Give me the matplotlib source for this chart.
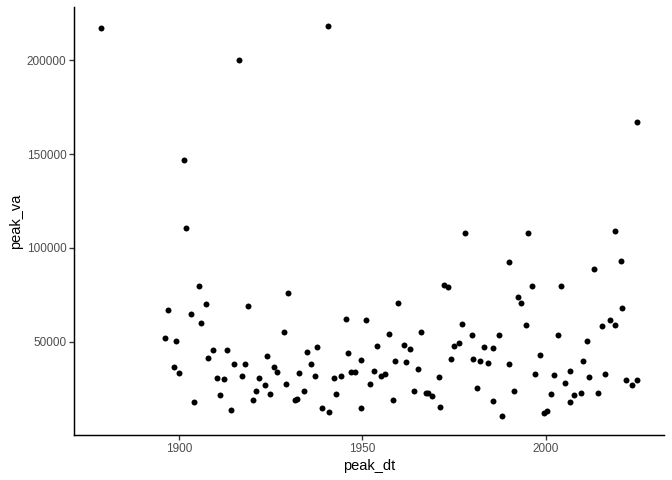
import numpy as np
import matplotlib
matplotlib.use("Agg")
import matplotlib.pyplot as plt

plt.rcParams['font.family'] = ['Liberation Sans', 'DejaVu Sans']

# peak date (decimal year) and peak value
peak_dt = [
    1878.7, 1940.7, 1916.4, 1901.4, 1901.9,
    2024.9, 1977.9, 1995.1, 2018.9,
    1905.5, 1907.4, 1897.0, 1903.3, 1918.9, 1906.0, 1896.2, 1899.2,
    1909.3, 1913.1, 1907.9, 1898.6, 1900.0, 1915.0, 1918.0, 1910.4,
    1912.3, 1917.2, 1921.9, 1921.0, 1920.2, 1911.2, 1904.1, 1914.2,
    1929.8, 1945.6, 1928.7, 1937.7, 1935.0, 1946.2, 1924.0, 1936.1,
    1926.0, 1926.8, 1932.8, 1947.0, 1948.1, 1937.2, 1942.3, 1944.3,
    1929.2, 1923.5, 1924.9, 1934.2, 1942.8, 1931.7, 1932.2, 1939.1,
    1941.0,
    1972.4, 1973.5, 1959.8, 1951.1, 1957.4, 1966.1, 1954.1, 1961.5,
    1963.1, 1975.1, 1949.7, 1959.0, 1962.0, 1974.3, 1953.3, 1965.3,
    1955.2, 1956.3, 1970.8, 1952.2, 1964.2, 1967.3, 1968.0, 1968.9,
    1958.5, 1949.7, 1971.3,
    1989.9, 1996.2, 1992.6, 1993.2, 1977.3, 1994.8, 1979.8, 1987.2,
    2003.3, 1976.5, 1983.3, 1985.8, 1998.4, 1980.3, 1982.2, 1984.2,
    1989.9, 1997.0, 2002.2, 1981.4, 1991.3, 2001.6, 1985.8, 1988.0,
    1999.5, 2000.3,
    2020.5, 2013.1, 2004.1, 2021.0, 2017.5, 2015.3, 2018.9, 2011.2,
    2010.1, 2006.6, 2016.1, 2012.0, 2022.1, 2025.1, 2023.5, 2005.2,
    2009.6, 2007.9, 2014.2, 2006.8,
]
peak_va = [
    217000, 218080, 200000, 146800, 110640,
    167000, 107980, 108000, 109040,
    79790, 70210, 67020, 64890, 69150, 60110, 52130, 50530,
    45740, 45740, 41490, 36700, 33510, 38300, 38300, 30850,
    30320, 31920, 30850, 23940, 19150, 21810, 18090, 13830,
    76060, 62230, 55320, 47340, 44680, 44150, 42550, 38300,
    36700, 34040, 33510, 34040, 34040, 31920, 30850, 31920,
    27660, 27130, 22340, 23940, 22340, 19150, 19680, 14900,
    12770,
    80320, 79260, 70740, 61700, 54260, 55320, 47870, 48400,
    46280, 47870, 40430, 39890, 39360, 40960, 34570, 35640,
    31920, 32980, 31380, 27660, 23940, 22870, 22660, 21280,
    19150, 14900, 15430,
    92550, 79790, 73940, 70740, 59570, 59040, 53720, 53720,
    53720, 49470, 47340, 46810, 43090, 40960, 39890, 38830,
    38300, 32980, 32450, 25530, 23940, 22340, 18620, 10640,
    12240, 13300,
    93080, 88830, 79790, 68080, 61700, 58510, 59040, 50530,
    39890, 34570, 32980, 31380, 29790, 29790, 27130, 28190,
    22870, 21810, 22870, 18090,
]

x_ticks = [1900, 1950, 2000]
y_ticks = [50000, 100000, 150000, 200000]

fig = plt.figure(figsize=(7, 5), dpi=96)
ax = fig.add_axes([74.3 / 672, 45 / 480, 590 / 672, (435 - 6.8) / 480])

ax.scatter(peak_dt, peak_va, s=20, color='black', linewidths=0)

# ggplot-like 5% expansion
xr = max(peak_dt) - min(peak_dt)
yr = max(peak_va) - min(peak_va)
ax.set_xlim(min(peak_dt) - 0.05 * xr, max(peak_dt) + 0.05 * xr)
ax.set_ylim(min(peak_va) - 0.05 * yr, max(peak_va) + 0.05 * yr)

ax.set_xticks(x_ticks)
ax.set_xticklabels([str(t) for t in x_ticks])
ax.set_yticks(y_ticks)
ax.set_yticklabels([str(t) for t in y_ticks])

for side in ['top', 'right']:
    ax.spines[side].set_visible(False)
for side in ['left', 'bottom']:
    ax.spines[side].set_linewidth(1.1)
    ax.spines[side].set_color('black')

ax.tick_params(axis='both', length=3.5, width=1.0, color='#333333',
               labelsize=8.8, labelcolor='#4d4d4d', pad=2.5)

ax.set_xlabel('peak_dt', fontsize=11, color='black', labelpad=3)
ax.set_ylabel('peak_va', fontsize=11, color='black', labelpad=3)

fig.savefig('out.png', dpi=96)
